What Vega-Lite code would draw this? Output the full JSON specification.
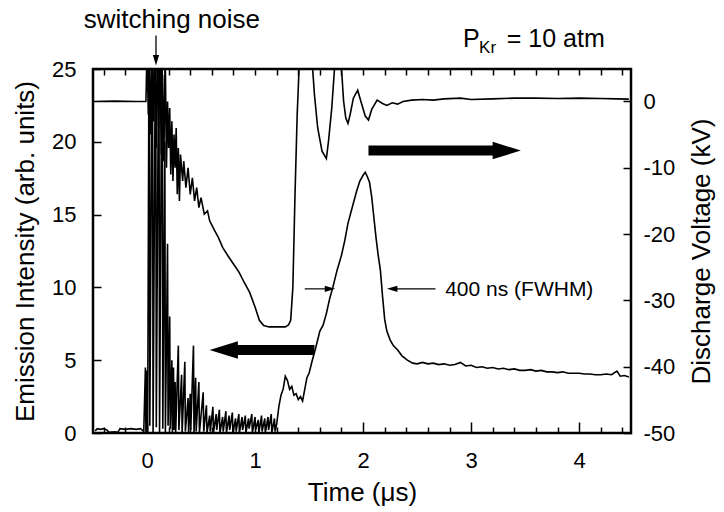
{
  "$schema": "https://vega.github.io/schema/vega-lite/v6.json",
  "width": 538,
  "height": 364,
  "autosize": {"type": "none"},
  "padding": {"left": 93, "top": 69, "right": 93, "bottom": 79},
  "background": "white",
  "config": {
    "view": {"stroke": "#000", "strokeWidth": 2.5},
    "font": "Liberation Sans",
    "axis": {
      "domain": false, "grid": false,
      "labelFont": "Liberation Sans", "labelFontSize": 22, "labelColor": "#000",
      "titleFont": "Liberation Sans", "titleFontSize": 26, "titleFontWeight": "normal", "titleColor": "#000",
      "tickColor": "#000", "tickWidth": 1.5
    }
  },
  "datasets": {
    "emission": [
      {"t":-0.48,"v":0.15},{"t":-0.46,"v":0.3},{"t":-0.43,"v":0.25},{"t":-0.4,"v":0.3},{"t":-0.37,"v":0.2},{"t":-0.35,"v":0.05},{"t":-0.3,"v":0.08},{"t":-0.27,"v":0.05},{"t":-0.25,"v":0.3},{"t":-0.2,"v":0.25},{"t":-0.15,"v":0.3},{"t":-0.1,"v":0.25},{"t":-0.06,"v":0.3},{"t":-0.03,"v":0.1},
      {"t":-0.015,"v":4.5},{"t":-0.01,"v":0},{"t":0.0,"v":4.3},{"t":0.006,"v":0},{"t":0.02,"v":30},{"t":0.026,"v":0.5},{"t":0.05,"v":30},{"t":0.056,"v":0},{"t":0.08,"v":30},{"t":0.086,"v":0.4},{"t":0.11,"v":30},{"t":0.116,"v":0},{"t":0.14,"v":30},{"t":0.146,"v":0.3},{"t":0.165,"v":20},{"t":0.17,"v":0},{"t":0.19,"v":13},{"t":0.195,"v":0.5},{"t":0.21,"v":8},{"t":0.215,"v":0.3},{"t":0.23,"v":5},{"t":0.235,"v":0},{"t":0.245,"v":4.5},{"t":0.25,"v":0.2},{"t":0.26,"v":3.5},{"t":0.265,"v":0},{"t":0.29,"v":6.0},{"t":0.295,"v":0.2},{"t":0.32,"v":4.0},{"t":0.325,"v":0},{"t":0.35,"v":4.9},{"t":0.355,"v":0.1},{"t":0.38,"v":2.4},{"t":0.385,"v":0},{"t":0.4,"v":2.7},{"t":0.405,"v":0.2},{"t":0.43,"v":6.0},{"t":0.435,"v":0},{"t":0.45,"v":3.8},{"t":0.455,"v":0.1},{"t":0.48,"v":3.5},{"t":0.485,"v":0},{"t":0.52,"v":2.8},{"t":0.525,"v":0.1},{"t":0.55,"v":1.9},{"t":0.555,"v":0},{"t":0.58,"v":1.2},{"t":0.585,"v":0.1},{"t":0.61,"v":1.8},{"t":0.615,"v":0},{"t":0.64,"v":1.3},{"t":0.645,"v":0.2},{"t":0.67,"v":1.6},{"t":0.675,"v":0},{"t":0.7,"v":1.1},{"t":0.705,"v":0.1},{"t":0.73,"v":1.5},{"t":0.735,"v":0},{"t":0.76,"v":1.2},{"t":0.765,"v":0.2},{"t":0.79,"v":1.4},{"t":0.795,"v":0},{"t":0.82,"v":1.0},{"t":0.825,"v":0.1},{"t":0.85,"v":1.3},{"t":0.855,"v":0},{"t":0.88,"v":1.1},{"t":0.885,"v":0.2},{"t":0.91,"v":1.2},{"t":0.915,"v":0},{"t":0.94,"v":1.0},{"t":0.945,"v":0.3},{"t":0.97,"v":1.3},{"t":0.975,"v":0},{"t":1.0,"v":1.1},{"t":1.005,"v":0.2},{"t":1.03,"v":0.9},{"t":1.035,"v":0},{"t":1.06,"v":1.2},{"t":1.065,"v":0.1},{"t":1.09,"v":1.0},{"t":1.095,"v":0},{"t":1.12,"v":1.1},{"t":1.125,"v":0.2},{"t":1.15,"v":1.3},{"t":1.155,"v":0},{"t":1.18,"v":1.0},{"t":1.185,"v":0.1},
      {"t":1.2,"v":0.6},{"t":1.22,"v":1.8},{"t":1.24,"v":2.6},{"t":1.26,"v":3.0},{"t":1.28,"v":3.9},{"t":1.3,"v":3.6},{"t":1.32,"v":3.0},{"t":1.34,"v":3.2},{"t":1.36,"v":2.6},{"t":1.38,"v":2.7},{"t":1.4,"v":2.3},{"t":1.42,"v":2.5},{"t":1.44,"v":2.2},{"t":1.46,"v":3.0},{"t":1.48,"v":3.8},{"t":1.5,"v":4.1},{"t":1.53,"v":5.0},{"t":1.56,"v":5.8},{"t":1.6,"v":7.0},{"t":1.63,"v":7.4},{"t":1.66,"v":8.2},{"t":1.69,"v":9.2},{"t":1.72,"v":10.0},{"t":1.76,"v":11.2},{"t":1.8,"v":12.2},{"t":1.83,"v":13.2},{"t":1.86,"v":14.4},{"t":1.9,"v":15.5},{"t":1.94,"v":16.6},{"t":1.97,"v":17.3},{"t":2.0,"v":17.7},{"t":2.02,"v":17.9},{"t":2.04,"v":17.6},{"t":2.06,"v":17.2},{"t":2.08,"v":16.2},{"t":2.1,"v":14.8},{"t":2.12,"v":13.4},{"t":2.14,"v":12.2},{"t":2.16,"v":11.2},{"t":2.18,"v":9.4},{"t":2.2,"v":7.8},{"t":2.22,"v":7.0},{"t":2.25,"v":6.4},{"t":2.28,"v":6.0},{"t":2.32,"v":5.7},{"t":2.36,"v":5.3},{"t":2.41,"v":5.0},{"t":2.46,"v":4.8},{"t":2.5,"v":4.75},{"t":2.55,"v":4.85},{"t":2.6,"v":4.75},{"t":2.65,"v":4.8},{"t":2.7,"v":4.7},{"t":2.75,"v":4.75},{"t":2.8,"v":4.65},{"t":2.85,"v":4.7},{"t":2.9,"v":4.85},{"t":2.95,"v":4.6},{"t":3.0,"v":4.65},{"t":3.05,"v":4.5},{"t":3.1,"v":4.55},{"t":3.15,"v":4.45},{"t":3.2,"v":4.5},{"t":3.25,"v":4.4},{"t":3.3,"v":4.45},{"t":3.35,"v":4.35},{"t":3.4,"v":4.4},{"t":3.45,"v":4.3},{"t":3.5,"v":4.3},{"t":3.55,"v":4.35},{"t":3.6,"v":4.25},{"t":3.65,"v":4.3},{"t":3.7,"v":4.2},{"t":3.75,"v":4.2},{"t":3.8,"v":4.15},{"t":3.85,"v":4.2},{"t":3.9,"v":4.1},{"t":3.95,"v":4.1},{"t":4.0,"v":4.1},{"t":4.05,"v":4.05},{"t":4.1,"v":4.05},{"t":4.15,"v":4.0},{"t":4.2,"v":4.0},{"t":4.25,"v":4.05},{"t":4.3,"v":4.0},{"t":4.35,"v":4.25},{"t":4.38,"v":3.9},{"t":4.42,"v":3.95},{"t":4.46,"v":3.85}
    ],
    "voltage": [
      {"t":-0.5,"kv":0},{"t":-0.3,"kv":0.05},{"t":-0.1,"kv":0},{"t":-0.01,"kv":0},{"t":0.0,"kv":8},{"t":0.012,"kv":-2},{"t":0.024,"kv":8},{"t":0.036,"kv":-5},{"t":0.048,"kv":8},{"t":0.06,"kv":-3},{"t":0.072,"kv":8},{"t":0.084,"kv":-7},{"t":0.096,"kv":8},{"t":0.108,"kv":-4},{"t":0.12,"kv":7},{"t":0.132,"kv":-8},{"t":0.144,"kv":4},{"t":0.156,"kv":-9},{"t":0.168,"kv":8},{"t":0.18,"kv":-10},{"t":0.19,"kv":0},{"t":0.2,"kv":-7},{"t":0.21,"kv":-1},{"t":0.22,"kv":-11},{"t":0.23,"kv":-3},{"t":0.24,"kv":-12},{"t":0.25,"kv":-5},{"t":0.26,"kv":-10},{"t":0.27,"kv":-4},{"t":0.28,"kv":-14},{"t":0.29,"kv":-7},{"t":0.3,"kv":-15},{"t":0.31,"kv":-8},{"t":0.33,"kv":-12},{"t":0.34,"kv":-9},{"t":0.36,"kv":-13},{"t":0.38,"kv":-10},{"t":0.4,"kv":-14},{"t":0.42,"kv":-11.5},{"t":0.44,"kv":-15},{"t":0.46,"kv":-13},{"t":0.48,"kv":-16},{"t":0.5,"kv":-14.5},{"t":0.53,"kv":-17},{"t":0.56,"kv":-16.5},{"t":0.58,"kv":-18},{"t":0.62,"kv":-19.3},{"t":0.66,"kv":-20.5},{"t":0.7,"kv":-22},{"t":0.75,"kv":-23.3},{"t":0.8,"kv":-24.5},{"t":0.85,"kv":-25.7},{"t":0.9,"kv":-27.3},{"t":0.95,"kv":-28.8},{"t":1.0,"kv":-31},{"t":1.04,"kv":-33},{"t":1.08,"kv":-33.8},{"t":1.13,"kv":-34},{"t":1.2,"kv":-34},{"t":1.28,"kv":-34},{"t":1.31,"kv":-33.7},{"t":1.33,"kv":-33},{"t":1.35,"kv":-28},{"t":1.37,"kv":-14},{"t":1.39,"kv":-2},{"t":1.41,"kv":6},{"t":1.43,"kv":8},{"t":1.52,"kv":8},{"t":1.55,"kv":1},{"t":1.58,"kv":-4},{"t":1.62,"kv":-7.5},{"t":1.66,"kv":-8.6},{"t":1.68,"kv":-6},{"t":1.71,"kv":-1},{"t":1.74,"kv":6},{"t":1.78,"kv":8},{"t":1.8,"kv":5},{"t":1.82,"kv":0},{"t":1.84,"kv":-2.5},{"t":1.86,"kv":-3.3},{"t":1.88,"kv":-2},{"t":1.91,"kv":0.5},{"t":1.95,"kv":1.7},{"t":1.98,"kv":0},{"t":2.02,"kv":-2.2},{"t":2.05,"kv":-2.8},{"t":2.08,"kv":-1.2},{"t":2.13,"kv":0.2},{"t":2.18,"kv":-0.3},{"t":2.22,"kv":-0.6},{"t":2.27,"kv":-0.2},{"t":2.32,"kv":-0.4},{"t":2.37,"kv":0},{"t":2.45,"kv":0.2},{"t":2.55,"kv":0.3},{"t":2.65,"kv":0.2},{"t":2.75,"kv":0.4},{"t":2.9,"kv":0.5},{"t":3.0,"kv":0.3},{"t":3.2,"kv":0.4},{"t":3.4,"kv":0.5},{"t":3.6,"kv":0.5},{"t":3.8,"kv":0.45},{"t":4.0,"kv":0.5},{"t":4.2,"kv":0.45},{"t":4.35,"kv":0.4},{"t":4.46,"kv":0.35}
    ]
  },
  "layer": [
    {
      "layer": [
        {
          "data": {"name": "emission"},
          "mark": {"type": "line", "color": "#000", "strokeWidth": 1.6, "clip": true},
          "encoding": {
            "x": {"field": "t", "type": "quantitative", "scale": {"domain": [-0.5, 4.48], "nice": false, "zero": false},
              "axis": {"orient": "bottom", "title": "Time (μs)", "values": [0,1,2,3,4], "format": "d",
                "tickSize": -11, "labelPadding": 28, "titlePadding": 8, "labelFlush": false}},
            "y": {"field": "v", "type": "quantitative", "scale": {"domain": [0, 25], "nice": false},
              "axis": {"orient": "left", "title": "Emission Intensity (arb. units)", "values": [0,5,10,15,20,25], "tickSize": -8, "labelPadding": 25, "titlePadding": 13, "labelFlush": false}}
          }
        },
        {
          "data": {"values": [{"a": 2.05, "b": 3.24, "v": 19.4}, {"a": 0.8, "b": 1.55, "v": 5.7}]},
          "mark": {"type": "rule", "color": "#000", "strokeWidth": 10, "strokeCap": "butt"},
          "encoding": {"x": {"field": "a", "type": "quantitative",
              "axis": {"orient": "bottom", "title": null, "labels": false, "values": [-0.4,-0.2,0.2,0.4,0.6,0.8,1.2,1.4,1.6,1.8,2.2,2.4,2.6,2.8,3.2,3.4,3.6,3.8,4.2,4.4], "tickSize": -6}},
            "x2": {"field": "b"}, "y": {"field": "v", "type": "quantitative"}}
        },
        {
          "data": {"values": [{"t": 3.33, "v": 19.4}]},
          "mark": {"type": "point", "shape": "M-1,-0.62L1,0L-1,0.62Z", "size": 800, "filled": true, "color": "#000", "opacity": 1},
          "encoding": {"x": {"field": "t", "type": "quantitative", "axis": null}, "y": {"field": "v", "type": "quantitative"}}
        },
        {
          "data": {"values": [{"t": 0.71, "v": 5.7}]},
          "mark": {"type": "point", "shape": "M1,-0.62L-1,0L1,0.62Z", "size": 800, "filled": true, "color": "#000", "opacity": 1},
          "encoding": {"x": {"field": "t", "type": "quantitative", "axis": null}, "y": {"field": "v", "type": "quantitative"}}
        },
        {
          "data": {"values": [{"a": 1.46, "b": 1.7, "v": 9.9}, {"a": 2.26, "b": 2.67, "v": 9.9}]},
          "mark": {"type": "rule", "color": "#000", "strokeWidth": 1.2},
          "encoding": {"x": {"field": "a", "type": "quantitative", "axis": null}, "x2": {"field": "b"}, "y": {"field": "v", "type": "quantitative"}}
        },
        {
          "data": {"values": [{"t": 1.694, "v": 9.9}]},
          "mark": {"type": "point", "shape": "M-1,-0.6L1,0L-1,0.6Z", "size": 110, "filled": true, "color": "#000", "opacity": 1},
          "encoding": {"x": {"field": "t", "type": "quantitative", "axis": null}, "y": {"field": "v", "type": "quantitative"}}
        },
        {
          "data": {"values": [{"t": 2.269, "v": 9.9}]},
          "mark": {"type": "point", "shape": "M1,-0.6L-1,0L1,0.6Z", "size": 110, "filled": true, "color": "#000", "opacity": 1},
          "encoding": {"x": {"field": "t", "type": "quantitative", "axis": null}, "y": {"field": "v", "type": "quantitative"}}
        },
        {
          "data": {"values": [{"t": 2.76, "v": 9.8, "label": "400 ns (FWHM)"}]},
          "mark": {"type": "text", "align": "left", "baseline": "middle", "fontSize": 21, "font": "Liberation Sans", "color": "#000"},
          "encoding": {"x": {"field": "t", "type": "quantitative", "axis": null}, "y": {"field": "v", "type": "quantitative"}, "text": {"field": "label"}}
        },
        {
          "data": {"values": [{"a": 0.083, "v": 27.3, "v2": 25.7}]},
          "mark": {"type": "rule", "color": "#000", "strokeWidth": 1.3},
          "encoding": {"x": {"field": "a", "type": "quantitative", "axis": null}, "y": {"field": "v", "type": "quantitative"}, "y2": {"field": "v2"}}
        },
        {
          "data": {"values": [{"t": 0.083, "v": 25.6}]},
          "mark": {"type": "point", "shape": "M-0.6,-1L0,1L0.6,-1Z", "size": 110, "filled": true, "color": "#000", "opacity": 1},
          "encoding": {"x": {"field": "t", "type": "quantitative", "axis": null}, "y": {"field": "v", "type": "quantitative"}}
        },
        {
          "data": {"values": [{"t": 0.23, "v": 27.8, "label": "switching noise"}]},
          "mark": {"type": "text", "align": "center", "baseline": "alphabetic", "fontSize": 26, "font": "Liberation Sans", "color": "#000"},
          "encoding": {"x": {"field": "t", "type": "quantitative", "axis": null}, "y": {"field": "v", "type": "quantitative"}, "text": {"field": "label"}}
        },
        {
          "data": {"values": [{"t": 2.926, "v": 26.5, "label": "P"}, {"t": 3.33, "v": 26.5, "label": "= 10 atm"}]},
          "mark": {"type": "text", "align": "left", "baseline": "alphabetic", "fontSize": 25, "font": "Liberation Sans", "color": "#000"},
          "encoding": {"x": {"field": "t", "type": "quantitative", "axis": null}, "y": {"field": "v", "type": "quantitative"}, "text": {"field": "label"}}
        },
        {
          "data": {"values": [{"t": 3.074, "v": 26.1, "label": "Kr"}]},
          "mark": {"type": "text", "align": "left", "baseline": "alphabetic", "fontSize": 17, "font": "Liberation Sans", "color": "#000"},
          "encoding": {"x": {"field": "t", "type": "quantitative", "axis": null}, "y": {"field": "v", "type": "quantitative"}, "text": {"field": "label"}}
        }
      ],
      "resolve": {"axis": {"x": "independent"}}
    },
    {
      "data": {"name": "voltage"},
      "mark": {"type": "line", "color": "#000", "strokeWidth": 1.6, "clip": true},
      "encoding": {
        "x": {"field": "t", "type": "quantitative",
          "axis": {"orient": "top", "title": null, "values": [-0.4,-0.2,0,0.2,0.4,0.6,0.8,1,1.2,1.4,1.6,1.8,2,2.2,2.4,2.6,2.8,3,3.2,3.4,3.6,3.8,4,4.2,4.4], "labels": false, "tickSize": -6}},
        "y": {"field": "kv", "type": "quantitative", "scale": {"domain": [-50, 4.9], "nice": false, "zero": false},
          "axis": {"orient": "right", "title": "Discharge Voltage (kV)", "titleAngle": 270, "titleBaseline": "top", "values": [-50,-40,-30,-20,-10,0], "format": "d", "labelExpr": "replace(datum.label, '\u2212', '-')", "tickSize": -8, "labelPadding": 20, "titlePadding": 14, "labelFlush": false}}
      }
    }
  ],
  "resolve": {"scale": {"y": "independent"}, "axis": {"x": "independent", "y": "independent"}}
}
